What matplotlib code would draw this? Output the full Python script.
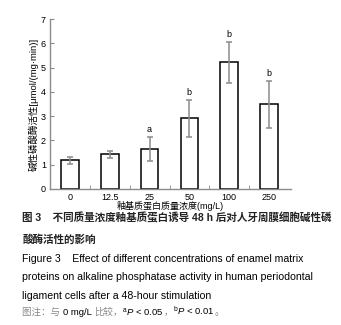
import numpy as np
import matplotlib
matplotlib.use("Agg")
import matplotlib.pyplot as plt

plt.rcParams['font.family'] = ['Liberation Sans', 'Noto Sans CJK SC']
plt.rcParams['mathtext.fontset'] = 'custom'
plt.rcParams['mathtext.rm'] = 'Liberation Sans'
plt.rcParams['mathtext.it'] = 'Liberation Sans:italic'

# data
categories = ['0', '12.5', '25', '50', '100', '250']
means = [1.17, 1.42, 1.63, 2.91, 5.22, 3.49]
errors = [0.13, 0.14, 0.50, 0.76, 0.85, 0.97]
marks = ['', '', 'a', 'b', 'b', 'b']

grey = '#8c8c8c'

fig = plt.figure(figsize=(3.41, 3.25), dpi=100)
ax = fig.add_axes([0.147, 0.419, 0.706, 0.522])

x = np.arange(len(categories))
ax.bar(x, means, width=0.44, color='white', edgecolor='black', linewidth=1.1, zorder=2)
ax.errorbar(x, means, yerr=errors, fmt='none', ecolor=grey, elinewidth=1.1,
            capsize=2, capthick=1.1, zorder=3)

for xi, m, e, lab in zip(x, means, errors, marks):
    if lab:
        ax.text(xi, m + e + 0.12, lab, ha='center', va='bottom', fontsize=6.5)

ax.set_xlim(-0.5, len(categories) - 0.45)
ax.set_ylim(0, 7)
ax.set_xticks(x)
ax.set_xticklabels(categories, fontsize=6.5)
ax.set_xticks(np.arange(0.5, len(categories) - 0.5, 1), minor=True)
ax.set_yticks(range(0, 8))
ax.tick_params(axis='y', labelsize=6.5, direction='in', length=3, color=grey, pad=3)
ax.tick_params(axis='x', which='major', length=0, pad=3)
ax.tick_params(axis='x', which='minor', direction='in', length=3, color=grey)

for side in ['top', 'right']:
    ax.spines[side].set_visible(False)
for side in ['left', 'bottom']:
    ax.spines[side].set_color(grey)
    ax.spines[side].set_linewidth(1.0)

ax.set_xlabel('釉基质蛋白质量浓度(mg/L)', fontsize=6.5, labelpad=-1)
ax.set_ylabel('碱性磷酸酶活性[μmol/(mg·min)]', fontsize=6.8, labelpad=1.5)

# caption
x0 = 0.065
fig.text(x0, 1 - 218 / 325, '图 3    不同质量浓度釉基质蛋白诱导 48 h 后对人牙周膜细胞碱性磷',
         fontsize=7.6, va='center', fontweight='bold', color='#222222')
fig.text(x0, 1 - 239 / 325, '酸酶活性的影响', fontsize=7.6, va='center',
         fontweight='bold', color='#222222')
eng = ['Figure 3    Effect of different concentrations of enamel matrix',
       'proteins on alkaline phosphatase activity in human periodontal',
       'ligament cells after a 48-hour stimulation']
for i, line in enumerate(eng):
    fig.text(x0, 1 - (258.5 + 18.8 * i) / 325, line, fontsize=7.6, va='center')

# note line: grey Chinese, black Latin, placed piece by piece on one baseline
note = [('图注：与 ', '#888888'), ('0 mg/L ', 'black'), ('比较，', '#888888'),
        ('$^{\\rm a}\\it{P}$ < 0.05', 'black'), ('，', '#888888'),
        ('$^{\\rm b}\\it{P}$ < 0.01', 'black'), ('。', '#888888')]
renderer = fig.canvas.get_renderer()
xpos = x0 * fig.bbox.width
ybase = 1 - 315 / 325
for txt, col in note:
    t = fig.text(xpos / fig.bbox.width, ybase, txt, fontsize=6.8, va='baseline',
                 color=col)
    xpos += t.get_window_extent(renderer).width

fig.savefig('out.png', dpi=100)
